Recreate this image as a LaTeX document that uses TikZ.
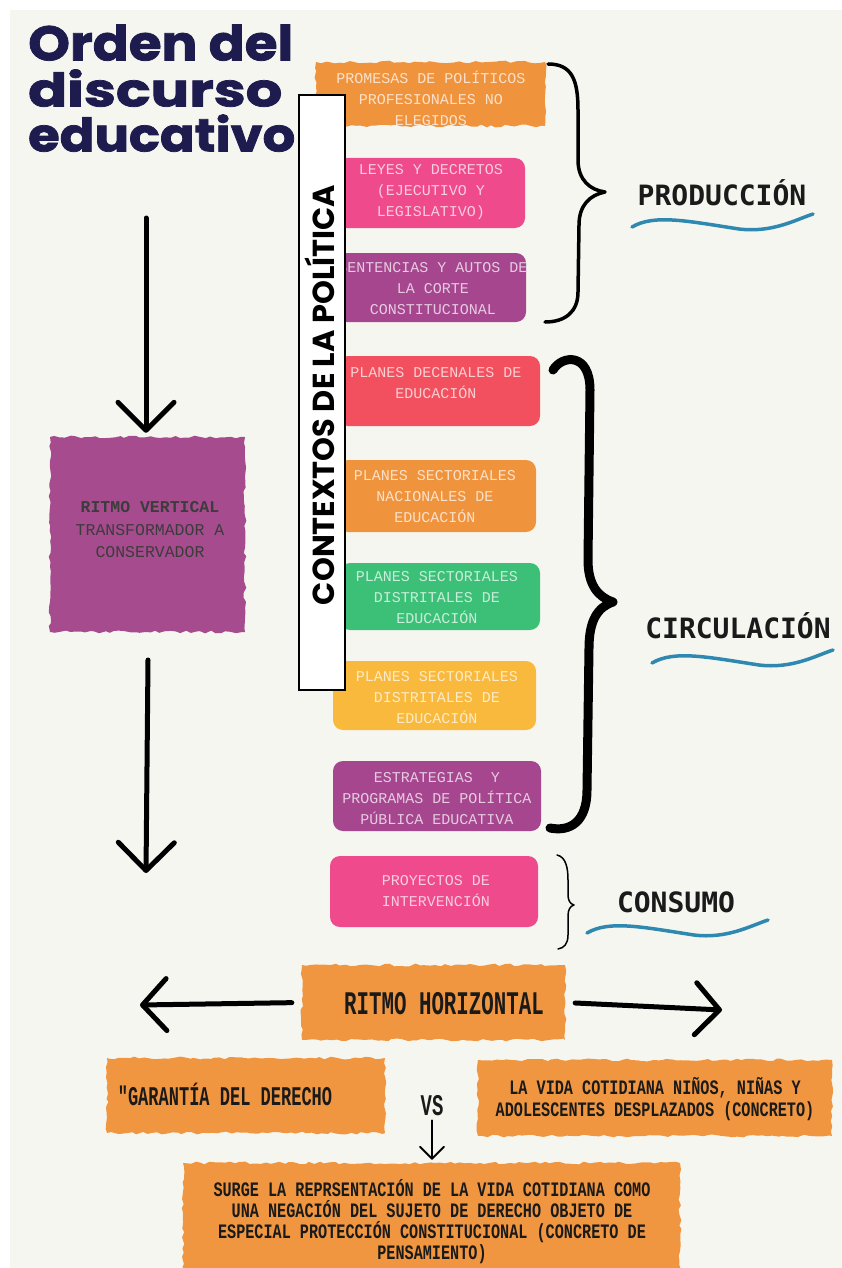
\documentclass[tikz,border=0pt]{standalone}
\usepackage{fontspec}
\usetikzlibrary{arrows.meta,decorations.pathmorphing,calc}
\newfontfamily\bxfont{Liberation Mono}
\newfontfamily\condfont[FakeStretch=0.63]{Liberation Mono}
\newfontfamily\condfontb[FakeStretch=0.74]{Liberation Mono}
\newfontfamily\lblfont{DejaVu Sans Mono}
\newfontfamily\popfont{Poppins}
\newfontfamily\titlefont[BoldFeatures={FakeBold=1.6}]{Poppins}
\definecolor{bgc}{HTML}{F6F6F1}
\definecolor{navy}{HTML}{1E1C4E}
\definecolor{corange}{HTML}{F0933D}
\definecolor{corange2}{HTML}{F19640}
\definecolor{cpink}{HTML}{EE4A8C}
\definecolor{cpurple}{HTML}{A5468F}
\definecolor{cred}{HTML}{F2505E}
\definecolor{cgreen}{HTML}{3CC078}
\definecolor{cyellow}{HTML}{F8B93C}
\definecolor{cvpurple}{HTML}{A64C8E}
\definecolor{teal}{HTML}{2F88B0}
\definecolor{ink}{HTML}{1A1A1A}
\pgfmathsetseed{7}
\begin{document}
\begin{tikzpicture}[x=1pt,y=-1pt,
  cbox/.style={fill=#1,rounded corners=10pt,inner sep=0pt},
  rough/.style={fill=#1,inner sep=0pt,decorate,decoration={random steps,segment length=5pt,amplitude=1.4pt}},
  boxtext/.style={font=\bxfont\fontsize{15}{21}\selectfont,align=center,text=white!72!#1,inner sep=0pt},
  darktext/.style={font=\bxfont\fontsize{16.5}{22.5}\selectfont,align=center,text=ink!85,inner sep=0pt},
  condtext/.style={font=\condfont\bfseries\fontsize{#1}{21}\selectfont,align=center,text=ink,inner sep=0pt},
  lbl/.style={font=\lblfont\bfseries\fontsize{28}{28}\selectfont,text=ink,inner sep=0pt,anchor=base},
  titletext/.style={font=\titlefont\bfseries,text=navy,inner sep=0pt,anchor=south west},
  wavestyle/.style={draw=teal,line width=3.5pt,line cap=round},
  bigarrow/.style={draw=black,line width=5pt,line cap=round,-{Straight Barb[length=28pt,width=56pt,round]}},
  harrow/.style={draw=black,line width=5pt,line cap=round,-{Straight Barb[length=24pt,width=52pt,round]}},
  smallarrow/.style={draw=black,line width=2pt,line cap=round,-{Straight Barb[length=12pt,width=24pt,round]}},
  brace/.style={draw=black,line cap=round,line join=round},
  wave/.pic={\draw[wavestyle] (0,0) .. controls (22,-13) and (55,-6) .. (107,2) .. controls (140,6) and (163,-7) .. (181,-13);}
]
\useasboundingbox (0,0) rectangle (842,1268);
\fill[white] (0,0) rectangle (842,1268);
\fill[bgc] (10,10) rectangle (842,1268);

% title
\node[titletext] (title1) at (28,61) {\resizebox{265pt}{36pt}{Orden del}};
\node[titletext] (title2) at (28,107) {\resizebox{254pt}{37pt}{discurso}};
\node[titletext] (title3) at (28,152) {\resizebox{267pt}{37pt}{educativo}};

% right column boxes
\node[rough=corange,minimum width=229pt,minimum height=64pt] (b1) at (430.5,94) {};
\node[boxtext=corange] (t1) at (431,98) {PROMESAS DE POLÍTICOS\\PROFESIONALES NO\\ELEGIDOS};
\node[cbox=cpink,minimum width=188pt,minimum height=70pt] (b2) at (431,193) {};
\node[boxtext=cpink] (t2) at (431,192) {LEYES Y DECRETOS\\(EJECUTIVO Y\\LEGISLATIVO)};
\node[cbox=cpurple,minimum width=189pt,minimum height=69pt] (b3) at (431.5,287.5) {};
\node[boxtext=cpurple] (t3) at (433,289) {SENTENCIAS Y AUTOS DE\\LA CORTE\\CONSTITUCIONAL};
\node[cbox=cred,minimum width=202pt,minimum height=70pt] (b4) at (439,391) {};
\node[boxtext=cred] (t4) at (436,383) {PLANES DECENALES DE\\EDUCACIÓN};
\node[cbox=corange,minimum width=198pt,minimum height=72pt] (b5) at (437,496) {};
\node[boxtext=corange] (t5) at (435,497) {PLANES SECTORIALES\\NACIONALES DE\\EDUCACIÓN};
\node[cbox=cgreen,minimum width=200pt,minimum height=67pt] (b6) at (440,596.5) {};
\node[boxtext=cgreen] (t6) at (437,598) {PLANES SECTORIALES\\DISTRITALES DE\\EDUCACIÓN};
\node[cbox=cyellow,minimum width=203pt,minimum height=69pt] (b7) at (434.5,695.5) {};
\node[boxtext=cyellow] (t7) at (437,698) {PLANES SECTORIALES\\DISTRITALES DE\\EDUCACIÓN};
\node[cbox=cpurple,minimum width=208pt,minimum height=70pt] (b8) at (437,796) {};
\node[boxtext=cpurple] (t8) at (437,799) {ESTRATEGIAS \ Y\\PROGRAMAS DE POLÍTICA\\PÚBLICA EDUCATIVA};
\node[cbox=cpink,minimum width=208pt,minimum height=71pt] (b9) at (434,891.5) {};
\node[boxtext=cpink] (t9) at (436,891) {PROYECTOS DE\\INTERVENCIÓN};

% vertical white label box
\node[draw=black,fill=white,line width=1.3pt,minimum width=46pt,minimum height=595pt,inner sep=0pt] (ctx) at (322,392.5) {};
\node[rotate=90,inner sep=0pt,font=\popfont\bfseries,text=black] (ctxt) at (320,395) {\resizebox{420pt}{!}{CONTEXTOS DE LA POLÍTICA}};

% braces
\draw[brace,line width=3.5pt] (548,64) .. controls (572,64) and (578,80) .. (578,110) -- (578,160) .. controls (578,180) and (590,190) .. (605,192) .. controls (590,195) and (579,205) .. (579,225) -- (578,292) .. controls (578,312) and (565,322) .. (545,322);
\draw[brace,line width=9pt] (553,370) .. controls (562,355) and (590,352) .. (590,390) -- (588,560) .. controls (588,585) and (598,597) .. (613,602) .. controls (598,607) and (589,620) .. (589,648) -- (587,790) .. controls (587,822) and (570,832) .. (550,828);
\draw[brace,line width=1.5pt] (557,855) .. controls (566,857) and (568,868) .. (568,880) -- (568,895) .. controls (568,900) and (570,904) .. (574,905) .. controls (570,906) and (568,910) .. (568,916) -- (568,935) .. controls (568,944) and (564,948) .. (558,949);

% labels with waves
\node[lbl] (prod) at (722,205) {PRODUCCIÓN};
\pic at (632,227) {wave};
\node[lbl] (circ) at (738,638) {CIRCULACIÓN};
\pic at (652,663) {wave};
\node[lbl] (cons) at (676,912) {CONSUMO};
\pic at (587,933) {wave};

% left column
\node[rough=cvpurple,minimum width=195pt,minimum height=195pt] (rv) at (147.5,534.5) {};
\node[darktext] (rvt) at (150,530) {{\bfseries RITMO VERTICAL}\\TRANSFORMADOR A\\CONSERVADOR};
\coordinate (a1s) at (146,218);
\draw[bigarrow,shorten >=4pt] (a1s) -- (rv.north -| a1s);
\coordinate (a2s) at (148,660);
\coordinate (a2e) at (146,873);
\draw[bigarrow] (a2s) -- (a2e);

% bottom
\node[rough=corange2,minimum width=263pt,minimum height=75pt] (rh) at (433.5,1002.5) {};
\node[condtext=33] (rht) at (444,1004) {RITMO HORIZONTAL};
\coordinate (la) at (140,1005);
\coordinate (ra) at (722,1010);
\draw[harrow,shorten <=10pt] (rh.west) -- (la);
\draw[harrow,shorten <=10pt] (rh.east) -- (ra);

\node[rough=corange2,minimum width=278pt,minimum height=75pt] (gd) at (246,1095.5) {};
\node[condtext=27] (gdt) at (225,1094) {"GARANTÍA DEL DERECHO};
\node[rough=corange2,minimum width=354pt,minimum height=76pt] (vd) at (655,1098) {};
\node[inner sep=0pt,align=center,text=ink,font=\condfontb\bfseries\fontsize{20.5}{22}\selectfont] (vdt) at (655,1099) {LA VIDA COTIDIANA NIÑOS, NIÑAS Y\\ADOLESCENTES DESPLAZADOS (CONCRETO)};
\node[condtext=30] (vs) at (432,1106) {VS};
\node[rough=corange2,minimum width=497pt,minimum height=112pt] (sb) at (431.5,1219) {};
\node[inner sep=0pt,align=center,text=ink,font=\condfontb\bfseries\fontsize{20.5}{21}\selectfont] (sbt) at (432,1222) {SURGE LA REPRSENTACIÓN DE LA VIDA COTIDIANA COMO\\UNA NEGACIÓN DEL SUJETO DE DERECHO OBJETO DE\\ESPECIAL PROTECCIÓN CONSTITUCIONAL (CONCRETO DE\\PENSAMIENTO)};
\draw[smallarrow,shorten <=4pt,shorten >=3pt] (vs.south) -- (sb.north -| vs.south);
\end{tikzpicture}
\end{document}
